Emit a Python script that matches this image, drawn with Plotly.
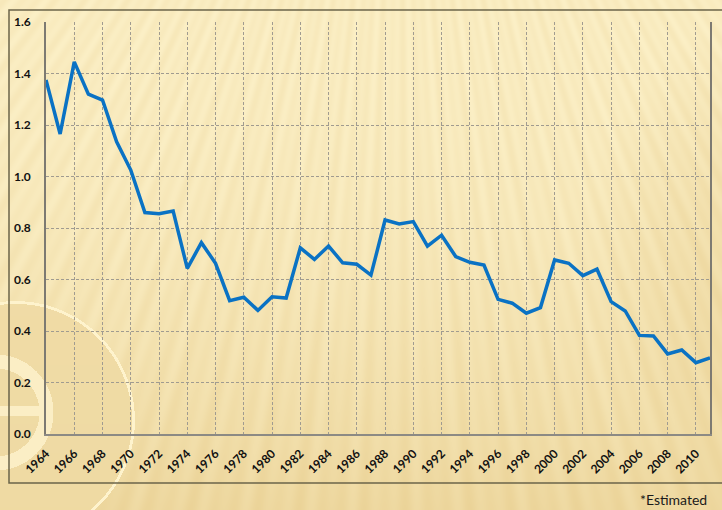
import base64
import struct
import zlib

import numpy as np
import plotly.graph_objects as go

# ---- data -----------------------------------------------------------------
years = [1964, 1965, 1966, 1967, 1968, 1969, 1970, 1971, 1972, 1973,
         1974, 1975, 1976, 1977, 1978, 1979, 1980, 1981, 1982, 1983,
         1984, 1985, 1986, 1987, 1988, 1989, 1990, 1991, 1992, 1993,
         1994, 1995, 1996, 1997, 1998, 1999, 2000, 2001, 2002, 2003,
         2004, 2005, 2006, 2007, 2008, 2009, 2010, 2011]
values = [1.375, 1.165, 1.445, 1.320, 1.297, 1.135, 1.025, 0.860, 0.855, 0.866,
          0.643, 0.743, 0.663, 0.518, 0.531, 0.480, 0.533, 0.528, 0.723, 0.678,
          0.730, 0.665, 0.659, 0.617, 0.831, 0.816, 0.825, 0.730, 0.772, 0.689,
          0.667, 0.656, 0.523, 0.508, 0.469, 0.491, 0.676, 0.663, 0.615, 0.640,
          0.514, 0.478, 0.383, 0.381, 0.311, 0.326, 0.277, 0.296]
footnote = "*Estimated"

# ---- page geometry --------------------------------------------------------
W, H = 722, 510
ML, MR, MT, MB = 46, 12, 22, 76
PW, PH = W - ML - MR, H - MT - MB


def px(x):
    return (x - ML) / PW


def py(y):
    return (H - MB - y) / PH


# ---- decorative golden backdrop (rays + emblem), built as a PNG -----------
def make_backdrop():
    yy, xx = np.mgrid[0:H, 0:W].astype(float)
    sx, sy = 400.0, -450.0
    ang = np.arctan2(xx - sx, yy - sy)
    s = 0.6 * np.sin(ang * 285.0) + 0.4 * np.sin(ang * 173.0 + 1.3)
    stripe = 0.5 + 0.5 * s

    g = (yy / H) ** 2
    t = 0.06 + 0.2 * stripe + 0.55 * g
    # darker glow on the upper right
    d = np.hypot(xx - 840, yy - 250)
    t += 0.22 * np.clip((260 - d) / 120, 0, 1)

    # emblem disk at the lower left
    dd = np.hypot(xx - 15, yy - 420)
    disk = dd < 118
    t = np.where(disk, 0.55 + 0.08 * g, t)
    rim = np.abs(dd - 118) < 1.4
    t = np.where(rim, -0.05, t)
    dr = np.hypot(xx + 5, yy - 412)
    ring = (dr > 44) & (dr < 58)
    bar = (yy > 405) & (yy < 416) & (xx < 50) & (dr < 58)
    t = np.where(ring | bar, 0.08, t)

    t = np.clip(t, -0.1, 1.0)[..., None]
    light = np.array([253, 242, 202], float)
    dark = np.array([231, 204, 140], float)
    img = light * (1 - t) + dark * t
    img = np.clip(img, 0, 255).astype(np.uint8)

    raw = b"".join(b"\x00" + row.tobytes() for row in img)

    def chunk(tag, data):
        c = struct.pack(">I", len(data)) + tag + data
        return c + struct.pack(">I", zlib.crc32(tag + data) & 0xFFFFFFFF)

    png = b"\x89PNG\r\n\x1a\n"
    png += chunk(b"IHDR", struct.pack(">IIBBBBB", W, H, 8, 2, 0, 0, 0))
    png += chunk(b"IDAT", zlib.compress(raw, 9))
    png += chunk(b"IEND", b"")
    return "data:image/png;base64," + base64.b64encode(png).decode()


# ---- figure ---------------------------------------------------------------
fig = go.Figure()
fig.add_trace(go.Scatter(
    x=years, y=values, mode="lines",
    line=dict(color="#0a72c4", width=3.5),
    hoverinfo="x+y",
))

tickfont = dict(family="Lato", size=12, color="#111111", weight="bold")

fig.update_layout(
    width=W, height=H,
    margin=dict(l=ML, r=MR, t=MT, b=MB, autoexpand=False),
    paper_bgcolor="#fbefc6",
    plot_bgcolor="rgba(0,0,0,0)",
    showlegend=False,
    xaxis=dict(
        range=[1964, 2011], tick0=1964, dtick=2, tickangle=-45,
        tickfont=tickfont, ticks="", ticklabelstandoff=6,
        showgrid=True, gridcolor="#a09b90", gridwidth=1, griddash="3px,2px",
        showline=True, linecolor="#8c8a84", linewidth=2,
        zeroline=False, fixedrange=True,
    ),
    yaxis=dict(
        range=[0, 1.6], dtick=0.2, tickformat=".1f",
        tickfont=tickfont, ticks="", ticklabelstandoff=11,
        showgrid=True, gridcolor="#a09b90", gridwidth=1, griddash="3px,2px",
        showline=True, linecolor="#7d7a72", linewidth=1.5, mirror=True,
        zeroline=False, fixedrange=True,
    ),
    images=[dict(
        source=make_backdrop(), xref="paper", yref="paper",
        x=px(0), y=py(0), sizex=W / PW, sizey=H / PH,
        xanchor="left", yanchor="top", sizing="stretch", layer="below",
    )],
    shapes=[dict(
        type="rect", xref="paper", yref="paper",
        x0=px(9), x1=px(740), y0=py(483), y1=py(10),
        line=dict(color="#6b6449", width=1.5), fillcolor="rgba(0,0,0,0)",
        layer="below",
    )],
    annotations=[dict(
        text=footnote, xref="paper", yref="paper",
        x=px(709), y=py(499), xanchor="right", yanchor="middle",
        showarrow=False, font=dict(family="Lato", size=14, color="#1a1a1a"),
    )],
)

fig.write_html("out.html")
